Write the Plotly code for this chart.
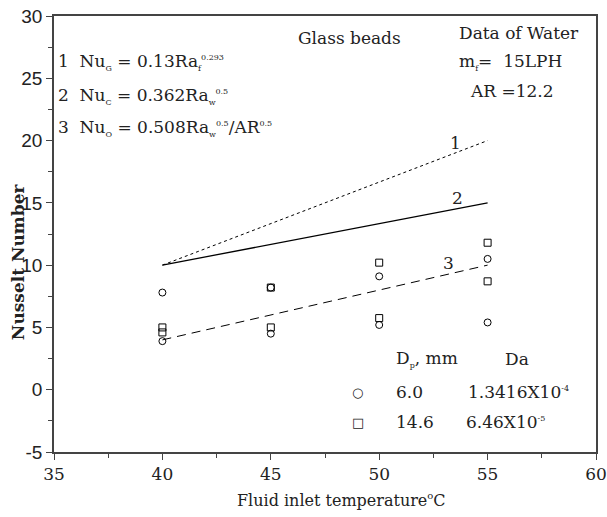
import plotly.graph_objects as go

# ---- data ----
temps = [40, 45, 50, 55]
# experimental points (two points per temperature for each particle size)
circle_x = [40, 40, 45, 45, 50, 50, 55, 55]
circle_y = [7.8, 3.9, 8.2, 4.5, 9.1, 5.2, 10.5, 5.4]
square_x = [40, 40, 45, 45, 50, 50, 55, 55]
square_y = [5.0, 4.6, 8.2, 5.0, 10.2, 5.75, 11.8, 8.7]
# correlation lines
line1_y = [10.0, 13.33, 16.67, 20.0]
line2_y = [10.0, 11.67, 13.33, 15.0]
line3_y = [4.0, 6.0, 8.0, 10.0]

x_ticks = [35, 40, 45, 50, 55, 60]
y_ticks = [-5, 0, 5, 10, 15, 20, 25, 30]
y_ticktext = ["-5", "0", "5", "10", "15", "20", "25", "30"]

SERIF = "DejaVu Serif"
SANS = "Liberation Sans"
INK = "#222222"
AX = "#444444"

fig = go.Figure()
fig.add_trace(go.Scatter(x=temps, y=line1_y, mode="lines",
                         line=dict(color="black", width=1, dash="dot")))
fig.add_trace(go.Scatter(x=temps, y=line2_y, mode="lines",
                         line=dict(color="black", width=1.3)))
fig.add_trace(go.Scatter(x=temps, y=line3_y, mode="lines",
                         line=dict(color="black", width=1, dash="9px,6px")))
fig.add_trace(go.Scatter(x=circle_x, y=circle_y, mode="markers",
                         marker=dict(symbol="circle-open", size=7, color="black",
                                     line=dict(width=1))))
fig.add_trace(go.Scatter(x=square_x, y=square_y, mode="markers",
                         marker=dict(symbol="square-open", size=7, color="black",
                                     line=dict(width=1))))

def small(s, size=8):
    return f"<span style='font-size:{size}px'>{s}</span>"

ann = []
def txt(x, y, text, size=17, xanchor="left", family=SERIF):
    ann.append(dict(x=x, y=y, xref="x", yref="y", text=text, showarrow=False,
                    xanchor=xanchor, yanchor="middle",
                    font=dict(family=family, size=size, color=INK)))

txt(35.1, 26.3, "1  Nu<sub>" + small("G") + "</sub> = 0.13Ra<sub>" + small("f") +
    "</sub><sup>" + small("0.293") + "</sup>")
txt(35.1, 23.6, "2  Nu<sub>" + small("C") + "</sub> = 0.362Ra<sub>" + small("w") +
    "</sub><sup>" + small("0.5") + "</sup>")
txt(35.1, 21.0, "3  Nu<sub>" + small("O") + "</sub> = 0.508Ra<sub>" + small("w") +
    "</sub><sup>" + small("0.5") + "</sup>/AR<sup>" + small("0.5") + "</sup>")
txt(48.65, 28.2, "Glass beads", xanchor="center")
txt(53.6, 28.6, "Data of Water")
txt(53.6, 26.3, "m<sub>" + small("f") + "</sub>=  15LPH")
txt(54.1, 24.0, "AR =12.2")
txt(53.5, 19.8, "1", xanchor="center")
txt(53.6, 15.4, "2", xanchor="center")
txt(53.2, 10.2, "3", xanchor="center")
txt(50.7, 2.5, "D<sub>" + small("p") + "</sub>, mm")
txt(55.7, 2.5, "Da")
txt(49.0, -0.2, "○", size=13, xanchor="center", family="DejaVu Sans")
txt(50.7, -0.2, "6.0")
txt(54.0, -0.2, "1.3416X10<sup>" + small("-4") + "</sup>")
txt(49.0, -2.6, "□", size=13, xanchor="center", family="DejaVu Sans")
txt(50.7, -2.6, "14.6")
txt(53.9, -2.6, "6.46X10<sup>" + small("-5") + "</sup>")

# axis titles placed as in the reference
ann.append(dict(x=-0.066, y=0.436, xref="paper", yref="paper", xanchor="center",
                yanchor="middle", textangle=-90, showarrow=False,
                text="<b>Nusselt Number</b>",
                font=dict(family=SERIF, size=17, color=INK)))
ann.append(dict(x=0.531, y=-0.11, xref="paper", yref="paper", xanchor="center",
                yanchor="middle", showarrow=False,
                text="Fluid inlet temperature<sup>" + small("o", 10) + "</sup>C",
                font=dict(family=SERIF, size=16, color=INK)))

fig.update_layout(
    width=607, height=517,
    margin=dict(l=54, r=11, t=16, b=65),
    plot_bgcolor="white", paper_bgcolor="white",
    showlegend=False,
    annotations=ann,
)
axis_common = dict(showgrid=False, zeroline=False, showline=True, linecolor=AX,
                   linewidth=1.5, mirror=True, ticks="outside", ticklen=6,
                   tickcolor=AX, tickwidth=1.2, automargin=False)
fig.update_xaxes(range=[35, 60], tickvals=x_ticks, **axis_common,
                 minor=dict(ticks="outside", ticklen=4, dtick=2.5, tick0=35,
                            tickcolor=AX),
                 tickfont=dict(family=SERIF, size=17, color=INK))
fig.update_yaxes(range=[-5, 30], tickvals=y_ticks, ticktext=y_ticktext, **axis_common,
                 minor=dict(ticks="outside", ticklen=4, dtick=2.5, tick0=-5,
                            tickcolor=AX),
                 tickfont=dict(family=SANS, size=19, color=INK))

fig.write_html("out.html")
